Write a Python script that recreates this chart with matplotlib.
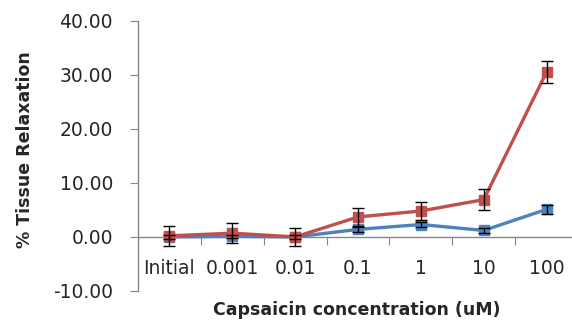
import numpy as np
import matplotlib.pyplot as plt

categories = ['Initial', '0.001', '0.01', '0.1', '1', '10', '100']
red_vals = [0.2, 0.7, 0.0, 3.7, 4.8, 6.9, 30.5]
red_err = [1.8, 1.8, 1.7, 1.7, 1.7, 1.9, 2.0]
blue_vals = [0.0, 0.1, 0.0, 1.4, 2.3, 1.2, 5.1]
blue_err = [0.3, 0.3, 0.3, 0.4, 0.5, 0.4, 0.8]
yticks = [-10, 0, 10, 20, 30, 40]

plt.rcParams['font.family'] = ['DejaVu Sans']

fig = plt.figure(figsize=(5.72, 3.25), dpi=100)
ax = fig.add_axes([138 / 572, 34 / 325, 440 / 572, 270.3 / 325])

x = np.arange(len(categories))
ax.plot(x, blue_vals, color='#4F81BD', lw=2.4, marker='s', ms=7, zorder=3)
ax.errorbar(x, blue_vals, yerr=blue_err, fmt='none', ecolor='black',
            elinewidth=1.0, capsize=4.5, capthick=1.0, zorder=5)
ax.plot(x, red_vals, color='#C0504D', lw=2.4, marker='s', ms=7, zorder=4)
ax.errorbar(x, red_vals, yerr=red_err, fmt='none', ecolor='black',
            elinewidth=1.0, capsize=4.5, capthick=1.0, zorder=6)

ax.set_xlim(-0.5, len(categories) - 0.5)
ax.set_ylim(-10, 40)
ax.set_yticks(yticks)
ax.set_yticklabels([f'{v:.2f}' for v in yticks])

# category axis crosses at 0, ticks between categories
ax.spines['top'].set_visible(False)
ax.spines['right'].set_visible(False)
ax.spines['bottom'].set_position(('data', 0))
for s in ['left', 'bottom']:
    ax.spines[s].set_color('#868686')
    ax.spines[s].set_linewidth(1.0)
ax.set_xticks(np.arange(0.5, len(categories) - 0.5), minor=False)
ax.set_xticklabels([])
ax.set_xticks(x, minor=True)
ax.set_xticklabels(categories, minor=True)
ax.tick_params(axis='x', which='major', direction='out', length=6, color='#868686')
ax.tick_params(axis='x', which='minor', length=0, pad=16, labelsize=13.5, labelcolor='#262626')
ax.tick_params(axis='y', direction='out', length=6, color='#868686', labelsize=13.5,
               labelcolor='#262626', pad=12)

fig.text(25 / 572, 1 - 150 / 325, '% Tissue Relaxation', rotation=90, ha='center', va='center',
         fontsize=12.5, fontweight='bold', color='#262626')
fig.text(357 / 572, 1 - 310 / 325, 'Capsaicin concentration (uM)', ha='center', va='center',
         fontsize=12.5, fontweight='bold', color='#262626')

fig.savefig('out.png', dpi=100)
